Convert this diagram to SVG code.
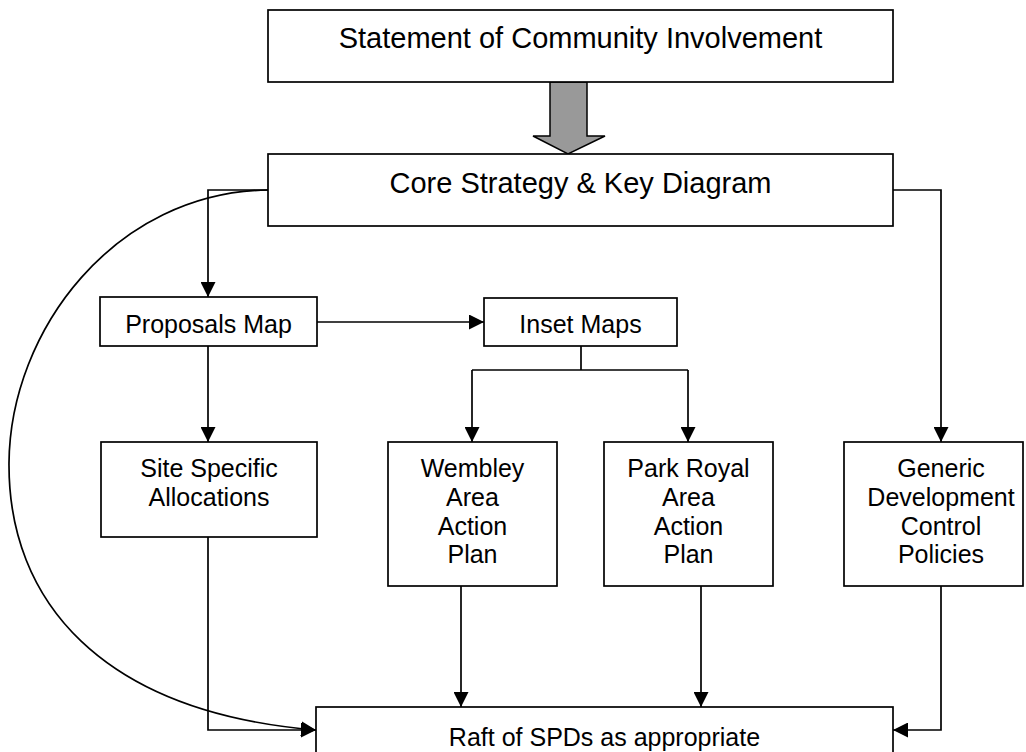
<svg xmlns="http://www.w3.org/2000/svg" width="1026" height="752" viewBox="0 0 1026 752">
<defs>
<style>
.box{fill:#fff;stroke:#000;stroke-width:1.7}
.big{font-family:"Liberation Sans",Arial,sans-serif;font-size:29px;fill:#000;text-anchor:middle}
.sm{font-family:"Liberation Sans",Arial,sans-serif;font-size:25px;fill:#000;text-anchor:middle}
.ln{fill:none;stroke:#000;stroke-width:1.7}
</style>
<marker id="ah" markerUnits="userSpaceOnUse" markerWidth="15" markerHeight="15" refX="15" refY="7.5" orient="auto">
<path d="M0,0 L15,7.5 L0,15 z" fill="#000"/>
</marker>
</defs>
<rect width="1026" height="752" fill="#fff"/>
<g id="connectors">
<path class="ln" d="M268,190 H208 V297" marker-end="url(#ah)"/>
<path class="ln" d="M893,190 H941 V442" marker-end="url(#ah)"/>
<path class="ln" d="M317,322 H484" marker-end="url(#ah)"/>
<path class="ln" d="M581,346 V370"/>
<path class="ln" d="M472,370 H688"/>
<path class="ln" d="M472,370 V442" marker-end="url(#ah)"/>
<path class="ln" d="M688,370 V442" marker-end="url(#ah)"/>
<path class="ln" d="M208,346 V442" marker-end="url(#ah)"/>
<path class="ln" d="M208,537 V730 H316" marker-end="url(#ah)"/>
<path class="ln" d="M461,586 V707" marker-end="url(#ah)"/>
<path class="ln" d="M701,586 V707" marker-end="url(#ah)"/>
<path class="ln" d="M941,586 V730 H893" marker-end="url(#ah)"/>
<path class="ln" d="M268,190 C115,192 10,330 9,463 C8,600 100,712 316,730" marker-end="url(#ah)"/>
</g>
<g id="block-arrow">
<path d="M550,82 H587 V136 H605 L568,154 L533,136 H550 Z" fill="#999" stroke="#000" stroke-width="1.5"/>
</g>
<g id="sci">
<rect class="box" x="268" y="10" width="625" height="72"/>
<text class="big" x="580.5" y="48">Statement of Community Involvement</text>
</g>
<g id="core">
<rect class="box" x="268" y="154" width="625" height="72"/>
<text class="big" x="580.5" y="193">Core Strategy &amp; Key Diagram</text>
</g>
<g id="proposals">
<rect class="box" x="100" y="297" width="217" height="49"/>
<text class="sm" x="208.5" y="333">Proposals Map</text>
</g>
<g id="inset">
<rect class="box" x="484" y="298" width="193" height="48"/>
<text class="sm" x="580.5" y="333">Inset Maps</text>
</g>
<g id="site">
<rect class="box" x="101" y="442" width="216" height="95"/>
<text class="sm" x="209" y="477">Site Specific</text>
<text class="sm" x="209" y="506">Allocations</text>
</g>
<g id="wembley">
<rect class="box" x="388" y="442" width="169" height="144"/>
<text class="sm" x="472.5" y="477">Wembley</text>
<text class="sm" x="472.5" y="506">Area</text>
<text class="sm" x="472.5" y="535">Action</text>
<text class="sm" x="472.5" y="563">Plan</text>
</g>
<g id="parkroyal">
<rect class="box" x="604" y="442" width="169" height="144"/>
<text class="sm" x="688.5" y="477">Park Royal</text>
<text class="sm" x="688.5" y="506">Area</text>
<text class="sm" x="688.5" y="535">Action</text>
<text class="sm" x="688.5" y="563">Plan</text>
</g>
<g id="generic">
<rect class="box" x="844" y="442" width="179" height="144"/>
<text class="sm" x="941" y="477">Generic</text>
<text class="sm" x="941" y="506">Development</text>
<text class="sm" x="941" y="535">Control</text>
<text class="sm" x="941" y="563">Policies</text>
</g>
<g id="raft">
<rect class="box" x="316" y="707" width="577" height="60"/>
<text class="sm" x="604.5" y="746">Raft of SPDs as appropriate</text>
</g>
</svg>
